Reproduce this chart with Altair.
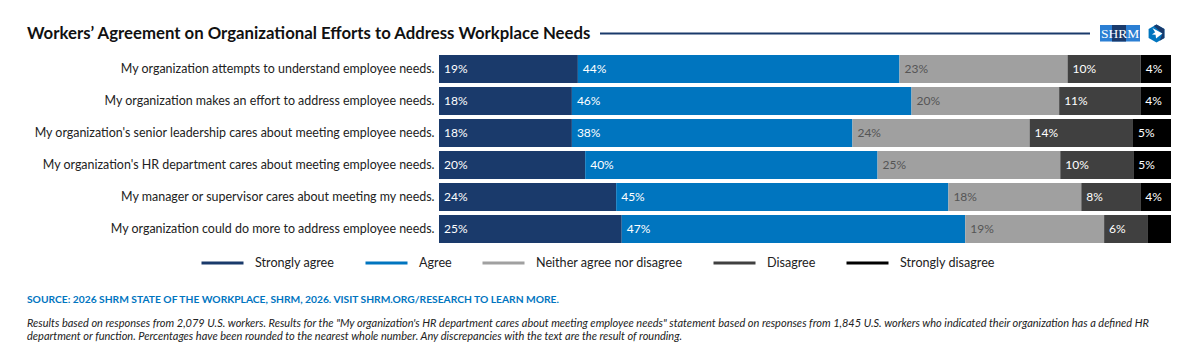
import altair as alt
import pandas as pd

statements = [
    "My organization attempts to understand employee needs.",
    "My organization makes an effort to address employee needs.",
    "My organization's senior leadership cares about meeting employee needs.",
    "My organization's HR department cares about meeting employee needs.",
    "My manager or supervisor cares about meeting my needs.",
    "My organization could do more to address employee needs.",
]
responses = ["Strongly agree", "Agree", "Neither agree nor disagree", "Disagree", "Strongly disagree"]
colors = ["#1a3a6b", "#0075bf", "#a0a0a0", "#404040", "#000000"]
label_colors = ["#ffffff", "#ffffff", "#555555", "#ffffff", "#ffffff"]
strongly_agree = [19, 18, 18, 20, 24, 25]
agree = [44, 46, 38, 40, 45, 47]
neither = [23, 20, 24, 25, 18, 19]
disagree = [10, 11, 14, 10, 8, 6]
strongly_disagree = [4.15, 4.15, 5.15, 5.15, 4.15, 3.15]
series = [strongly_agree, agree, neither, disagree, strongly_disagree]

TITLE = "Workers\u2019 Agreement on Organizational Efforts to Address Workplace Needs"
SOURCE = "SOURCE: 2026 SHRM STATE OF THE WORKPLACE, SHRM, 2026. VISIT SHRM.ORG/RESEARCH TO LEARN MORE."
NOTE1 = ("Results based on responses from 2,079 U.S. workers. Results for the \"My organization's HR department cares "
         "about meeting employee needs\" statement based on responses from 1,845 U.S. workers who indicated their organization has a defined HR")
NOTE2 = ("department or function. Percentages have been rounded to the nearest whole number. "
         "Any discrepancies with the text are the result of rounding.")

rows = []
for r, (resp, vals) in enumerate(zip(responses, series)):
    for s, v in zip(statements, vals):
        rows.append({"statement": s, "response": resp, "order": r, "value": v,
                     "label": f"{round(v)}%", "tc": label_colors[r]})
df = pd.DataFrame(rows)

FONT = "Lato"
OX, OY = 439, 53  # page position of the plot origin


def px(v):
    return alt.value(v - OX)


def py(v):
    return alt.value(v - OY)


one = pd.DataFrame({"a": [0]})

base = alt.Chart(df).transform_stack(
    stack="value", groupby=["statement"], sort=[alt.SortField("order", order="ascending")],
    as_=["s0", "s1"], offset="normalize",
)
y = alt.Y("statement:N", sort=statements,
          scale=alt.Scale(paddingInner=0.125, paddingOuter=0.0625),
          axis=alt.Axis(title=None, ticks=False, domain=False, labelPadding=5, labelLimit=600,
                        labelFont=FONT, labelFontSize=12.45, labelColor="#222222"))
x = alt.X("s0:Q", scale=alt.Scale(domain=[0, 1], nice=False, zero=False), axis=None)

bars = base.mark_bar(strokeWidth=0, size=28).encode(
    x=x, x2="s1:Q", y=y,
    color=alt.Color("response:N", legend=None, scale=alt.Scale(domain=responses, range=colors)),
    stroke=alt.Stroke("response:N", scale=alt.Scale(domain=responses, range=colors),
                      legend=alt.Legend(title=None, orient="none", legendX=200 - OX, legendY=240 - OY,
                                        direction="horizontal", columns=5, symbolType="stroke",
                                        symbolSize=1764, symbolStrokeWidth=3, columnPadding=24,
                                        labelOffset=10, labelFont=FONT, labelFontSize=12.6,
                                        labelColor="#222222", gridAlign="each")),
)
labels = base.transform_filter("datum.value >= 4").mark_text(
    align="left", baseline="middle", dx=5, font=FONT, fontSize=12).encode(
    x=x, y=y, text="label:N", color=alt.Color("tc:N", scale=None, legend=None),
)


def txt(s, x0, y0, **kw):
    return alt.Chart(one).mark_text(align=kw.pop("align", "left"), baseline="middle", font=FONT, text=s, **kw).encode(
        x=px(x0), y=py(y0))


title = txt(TITLE, 27, 34, fontSize=16.75, fontWeight="bold", color="#111111")
rule = alt.Chart(one).mark_rule(color="#1a3a6b", strokeWidth=2).encode(x=px(600), x2=px(1090), y=py(33.5))
source = txt(SOURCE, 27, 299.5, fontSize=10.25, fontWeight="bold", color="#0075bf")
note1 = txt(NOTE1, 27, 323.5, fontSize=11, fontStyle="italic", color="#222222")
note2 = txt(NOTE2, 27, 336.5, fontSize=11, fontStyle="italic", color="#222222")

logo_box = alt.Chart(one).mark_rect(color="#2b7fd4").encode(x=px(1100), x2=px(1140), y=py(25), y2=py(41.5))
logo_mid = alt.Chart(one).mark_rect(color="#1a3a6b").encode(x=px(1112), x2=px(1126), y=py(25), y2=py(41.5))
logo_txt = alt.Chart(one).mark_text(align="center", baseline="middle", font="Liberation Serif", text="SHRM",
                                    fontSize=13.5, color="#ffffff").encode(x=px(1120), y=py(33.5))
hexa = "M0,-1 L0.87,-0.5 L0.87,0.5 L0,1 L-0.87,0.5 L-0.87,-0.5 Z"
hex_dark = "M-0.3,-0.83 L0,-1 L0.87,-0.5 L0.87,0.5 L0.35,0.8 L0.65,0 Z"
arrow = "M-0.45,-0.6 L0.65,0 L-0.05,0.55 L-0.1,0.15 L-0.5,0.1 L-0.15,-0.15 Z"


def sym(path, color):
    return alt.Chart(one).mark_point(shape=path, filled=True, size=330, color=color, opacity=1).encode(
        x=px(1156.5), y=py(33.5))


chart = alt.layer(
    bars, labels, title, rule, source, note1, note2, logo_box, logo_mid, logo_txt,
    sym(hexa, "#0075bf"), sym(hex_dark, "#1a3a6b"), sym(arrow, "#ffffff"),
).resolve_scale(color="independent").properties(
    width=732, height=192,
    padding={"left": OX - 8, "top": OY - 8, "right": 21, "bottom": 100},
    autosize=alt.AutoSizeParams(type="none"),
    background="#ffffff",
).configure_view(stroke=None)

chart.save("out.html", embed_options={"renderer": "svg", "actions": False})
